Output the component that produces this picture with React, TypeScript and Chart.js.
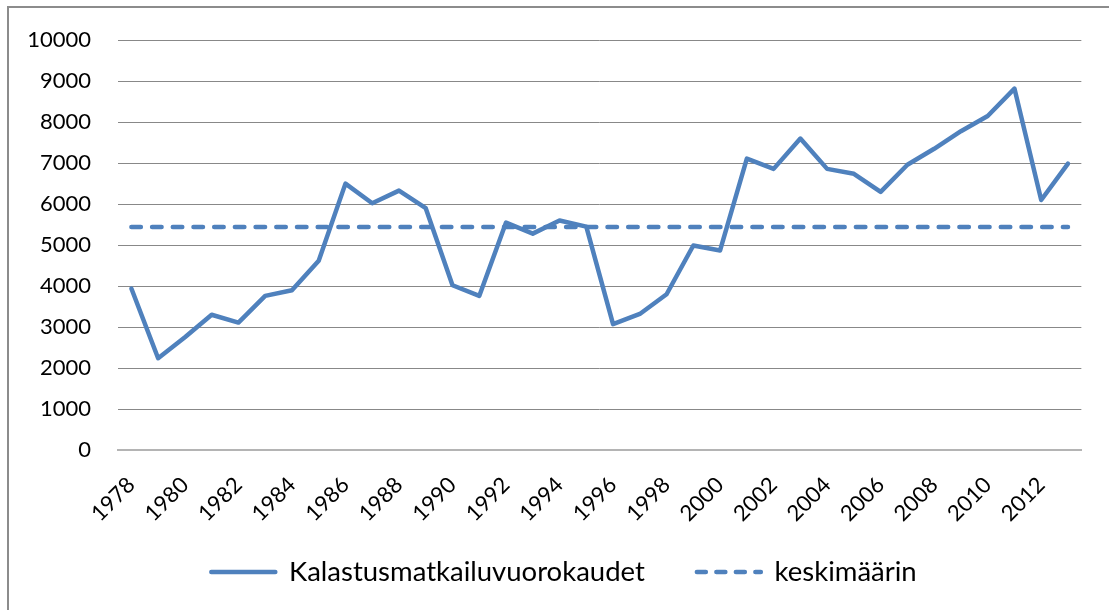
import React, { useEffect, useRef } from "react";
import { Chart, registerables } from "chart.js";

Chart.register(...registerables);

const years = [
  "1978", "1979", "1980", "1981", "1982", "1983", "1984", "1985", "1986", "1987",
  "1988", "1989", "1990", "1991", "1992", "1993", "1994", "1995", "1996", "1997",
  "1998", "1999", "2000", "2001", "2002", "2003", "2004", "2005", "2006", "2007",
  "2008", "2009", "2010", "2011", "2012", "2013",
];

const visitDays = [
  3940, 2240, 2750, 3300, 3110, 3760, 3900, 4620, 6500, 6020,
  6330, 5900, 4020, 3760, 5550, 5280, 5600, 5450, 3070, 3320,
  3800, 4990, 4870, 7110, 6860, 7600, 6860, 6740, 6300, 6960,
  7350, 7780, 8150, 8820, 6100, 6990,
];

const averageLine = [
  5440, 5440, 5440, 5440, 5440, 5440, 5440, 5440, 5440, 5440,
  5440, 5440, 5440, 5440, 5440, 5440, 5440, 5440, 5440, 5440,
  5440, 5440, 5440, 5440, 5440, 5440, 5440, 5440, 5440, 5440,
  5440, 5440, 5440, 5440, 5440, 5440,
];

const seriesNames = ["Kalastusmatkailuvuorokaudet", "keskimäärin"];
const yTicks = [0, 1000, 2000, 3000, 4000, 5000, 6000, 7000, 8000, 9000, 10000];

const BLUE = "#4F81BD";
const FONT = "Lato, 'Open Sans', sans-serif";
const LEGEND_FONT_SIZE = 27.5;
const LEGEND_PADDING = 52;
const LINE_W = 4.5;

// Places the legend box like the original (centred under the whole frame, not the canvas)
const legendPlacement = {
  id: "legendPlacement",
  afterLayout(chart: any) {
    const lg = chart.legend;
    if (!lg) return;
    lg.left = 45;
    lg.right = 1083;
    lg.width = lg.right - lg.left;
    lg.top = 572 - LEGEND_PADDING - LEGEND_FONT_SIZE / 2;
    lg.bottom = 610;
    lg.height = lg.bottom - lg.top;
  },
};

export default function App() {
  const ref = useRef<HTMLCanvasElement | null>(null);

  useEffect(() => {
    if (!ref.current) return;
    const chart = new Chart(ref.current, {
      type: "line",
      data: {
        labels: years,
        datasets: [
          {
            label: seriesNames[0],
            data: visitDays,
            borderColor: BLUE,
            backgroundColor: BLUE,
            borderWidth: LINE_W,
            pointRadius: 0,
            tension: 0,
            borderJoinStyle: "round",
            borderCapStyle: "round",
          },
          {
            label: seriesNames[1],
            data: averageLine,
            borderColor: BLUE,
            backgroundColor: BLUE,
            borderWidth: LINE_W,
            pointRadius: 0,
            tension: 0,
            borderDash: [9.5, 11.2],
            borderCapStyle: "round",
          },
        ],
      },
      options: {
        responsive: false,
        animation: false,
        events: [],
        layout: { padding: { left: 0, right: 26, top: 38, bottom: 0 } },
        plugins: {
          tooltip: { enabled: false },
          legend: {
            position: "bottom",
            maxHeight: 80,
            labels: {
              usePointStyle: true,
              pointStyleWidth: 64,
              boxHeight: 10,
              padding: LEGEND_PADDING,
              color: "#000",
              font: { family: FONT, size: LEGEND_FONT_SIZE },
              generateLabels: () => [
                {
                  text: seriesNames[0],
                  fillStyle: BLUE,
                  strokeStyle: BLUE,
                  lineWidth: LINE_W,
                  lineCap: "round",
                  lineDash: [],
                  pointStyle: "line",
                  hidden: false,
                  datasetIndex: 0,
                  fontColor: "#000",
                } as any,
                {
                  text: seriesNames[1],
                  fillStyle: BLUE,
                  strokeStyle: BLUE,
                  lineWidth: LINE_W,
                  lineCap: "round",
                  lineDash: [9, 10.5],
                  pointStyle: "line",
                  hidden: false,
                  datasetIndex: 1,
                  fontColor: "#000",
                } as any,
              ],
            },
          },
        },
        scales: {
          x: {
            offset: true,
            grid: { display: false, drawTicks: false },
            border: { display: true, color: "#b4b4b4", width: 2 },
            ticks: {
              autoSkip: false,
              minRotation: 45,
              maxRotation: 45,
              padding: 22,
              color: "#000",
              font: { family: FONT, size: 22 },
              callback: (_v: any, i: number) => (i % 2 === 0 ? years[i] : ""),
            },
            afterFit: (s: any) => {
              s.height = 80;
            },
          },
          y: {
            min: yTicks[0],
            max: yTicks[yTicks.length - 1],
            grid: {
              drawTicks: false,
              lineWidth: 1,
              color: (c: any) => (c.tick && c.tick.value === 0 ? "rgba(0,0,0,0)" : "#888888"),
            },
            border: { display: false },
            afterBuildTicks: (s: any) => {
              s.ticks = yTicks.map((v) => ({ value: v }));
            },
            ticks: {
              padding: 27,
              color: "#000",
              font: { family: FONT, size: 22 },
              callback: (v: any) => String(v),
            },
            afterFit: (s: any) => {
              s.width = 118;
            },
          },
        },
      },
      plugins: [legendPlacement],
    });
    return () => chart.destroy();
  }, []);

  return (
    <div
      style={{
        position: "absolute",
        left: 0,
        top: 0,
        width: 1109,
        height: 610,
        overflow: "hidden",
        background: "#fff",
      }}
    >
      <div
        style={{
          position: "absolute",
          left: 7,
          top: 6,
          width: 1200,
          height: 700,
          borderLeft: "2px solid #8c8c8c",
          borderTop: "2px solid #8c8c8c",
        }}
      />
      <canvas
        ref={ref}
        width={1109}
        height={610}
        style={{ position: "absolute", left: 0, top: 0, display: "block" }}
      />
    </div>
  );
}
